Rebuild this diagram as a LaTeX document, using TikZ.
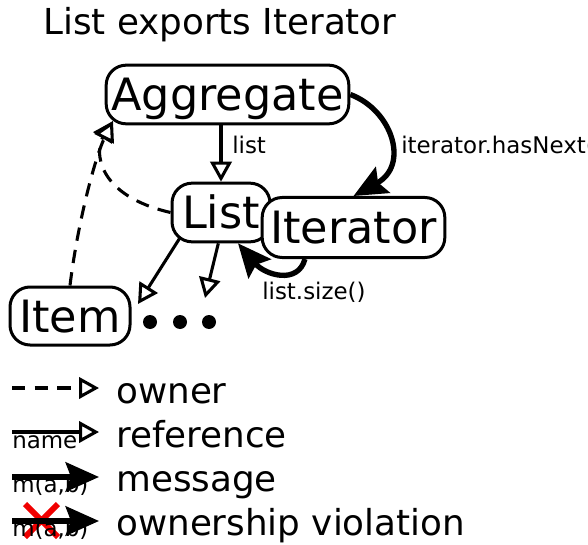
\documentclass[tikz,border=0pt]{standalone}
\usepackage{fontspec}
\setmainfont{DejaVu Sans}
\usetikzlibrary{arrows.meta}
\definecolor{xred}{RGB}{240,0,0}
\begin{document}
\begin{tikzpicture}[x=0.75pt,y=-0.75pt,
  box/.style={draw, line width=2.25pt, rounded corners=15pt, fill=white, inner sep=0pt,
    font=\fontsize{33.4}{33.4}\selectfont, text height=24.3pt, text depth=0pt},
  refline/.style={line width=2.3pt, -{Triangle[length=15pt,width=16pt,fill=white]}},
  ownline/.style={refline, dash pattern=on 10pt off 7pt},
  msgline/.style={line width=4pt, -{Stealth[length=25pt,width=22pt,inset=4pt]}},
  lbl/.style={font=\fontsize{17.2}{17.2}\selectfont, inner sep=0pt, anchor=base west},
  big/.style={font=\fontsize{26.8}{26.8}\selectfont, inner sep=0pt, anchor=base west},
  blob/.style={circle, fill, inner sep=0pt, minimum size=10.5pt}]
\useasboundingbox (0,0) rectangle (588,545);

% title
\node[big] (title) at (43,35) {List exports Iterator};

% objects
\node[box, minimum width=182pt, minimum height=44pt] (agg) at (227.5,94.5) {Aggregate};
\node[box, minimum width=73.5pt, minimum height=44pt] (list) at (221,212.5) {List};
\node[box, minimum width=137pt, minimum height=45pt] (iter) at (353.5,227.5) {Iterator};
\node[box, minimum width=90pt, minimum height=43.5pt] (item) at (70,316) {Item};
\node[blob] (d1) at (150,322) {};
\node[blob] (d2) at (180,322) {};
\node[blob] (d3) at (209,322) {};

% free ends
\coordinate (aggfoot) at (113,121);
\coordinate (itemtip) at (138,304);
\coordinate (dotstip) at (205,298);

% ownership
\draw[ownline] (list.west) .. controls (95,195) and (95,150) .. (aggfoot);
\draw[ownline] (item.north) .. controls (78,220) and (96,155) .. (aggfoot);

% references
\draw[refline] (agg.south -| list.north) -- (list.north);
\node[lbl] (lbllist) at (232,154) {list};
\draw[refline] ([xshift=7pt,yshift=4pt]list.south west) -- (itemtip);
\draw[refline] ([xshift=-2pt]list.south) -- (dotstip);

% messages
\draw[msgline] (agg.east) .. controls (392,110) and (410,165) .. (iter.north);
\node[lbl] (lblnext) at (401,154) {iterator.hasNext()};
\draw[msgline] ([xshift=-36.4pt]iter.south) .. controls (298,285) and (265,275) .. ([xshift=12.75pt]list.south);
\node[lbl] (lblsize) at (262,299) {list.size()};

% legend
\coordinate (a1) at (12,388); \coordinate (b1) at (99,388);
\coordinate (a2) at (12,432); \coordinate (b2) at (99,432);
\coordinate (a3) at (12,477); \coordinate (b3) at (99,477);
\coordinate (a4) at (12,521); \coordinate (b4) at (99,521);
\draw[ownline] (a1) -- (b1);
\node[big] (k1) at (116,403) {owner};
\node[lbl] (n2) at (12,448) {name};
\draw[refline] (a2) -- (b2);
\node[big] (k2) at (116,447) {reference};
\node[lbl] (n3) at (12,492) {m(a,b)};
\draw[msgline] (a3) -- (b3);
\node[big] (k3) at (116,491) {message};
\draw[xred, line width=4.5pt] (25,504) -- (58,537) (25,537) -- (58,504);
\node[lbl] (n4) at (12,536) {m(a,b)};
\draw[msgline] (a4) -- (b4);
\node[big] (k4) at (116,535) {ownership violation};
\end{tikzpicture}
\end{document}
